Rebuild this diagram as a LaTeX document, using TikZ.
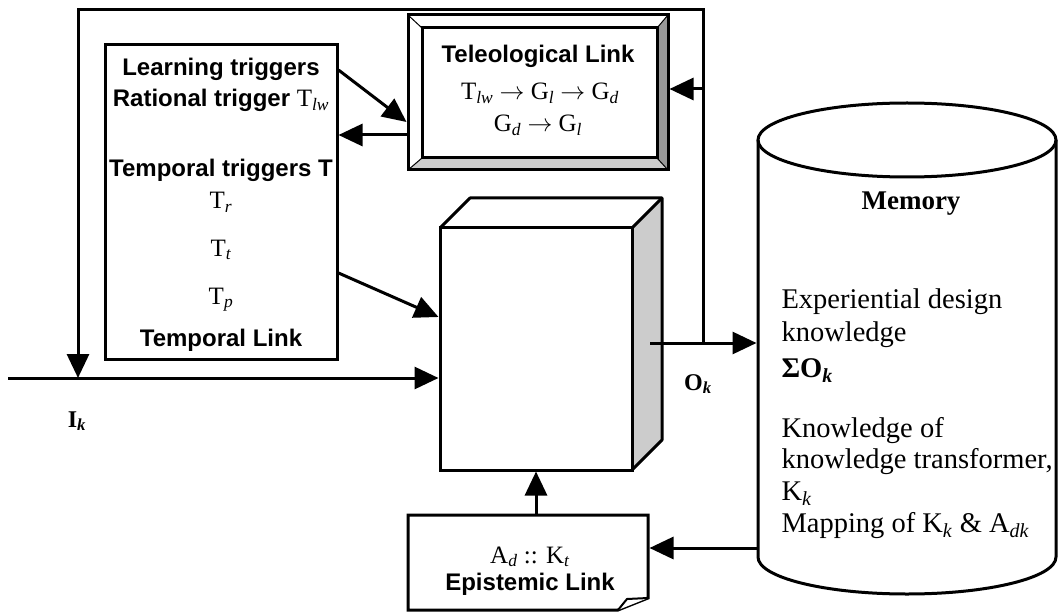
\documentclass[tikz,border=0pt]{standalone}
\usepackage{fontspec}
\setmainfont{Liberation Serif}
\setsansfont{Liberation Sans}
\usetikzlibrary{arrows.meta}
\begin{document}
\begin{tikzpicture}[x=1pt,y=-1pt,line width=3pt,
  arr/.style={-{Triangle[length=24pt,width=22pt]}},
  sfb/.style={font=\sffamily\bfseries\fontsize{24}{27}\selectfont,inner sep=0pt},
  srf/.style={font=\rmfamily\mdseries\fontsize{25}{28}\selectfont,inner sep=0pt},
  memf/.style={font=\rmfamily\fontsize{28.5}{33}\selectfont,inner sep=0pt,anchor=base west},
  lblf/.style={font=\rmfamily\bfseries\fontsize{24}{28}\selectfont,inner sep=0pt,anchor=base},
  box/.style={draw,line width=3pt,inner sep=0pt},
  ghost/.style={inner sep=0pt},
  thinline/.style={line width=1pt}]
\useasboundingbox (0,0) rectangle (1059,612);

% ---------- Learning triggers box ----------
\node[box,minimum width=232pt,minimum height=314pt] (lrn) at (221,202) {};
\node[sfb,anchor=base] (l1) at (221,76) {Learning triggers};
\node[sfb,anchor=base] (l2) at (221,107) {Rational trigger {\rmfamily\mdseries\fontsize{25}{28}\selectfont T\textsubscript{\textit{lw}}}};
\node[sfb,anchor=base] (l3) at (221,177) {Temporal triggers T};
\node[srf,anchor=base] (l4) at (221,209) {T\textsubscript{\textit{r}}};
\node[srf,anchor=base] (l5) at (221,256) {T\textsubscript{\textit{t}}};
\node[srf,anchor=base] (l6) at (221,304) {T\textsubscript{\textit{p}}};
\node[sfb,anchor=base] (l7) at (221,346) {Temporal Link};

% ---------- Teleological link (bevelled box) ----------
\fill[gray!80] (657,28) -- (668,15) -- (668,170) -- (657,158) -- cycle;
\fill[gray!40] (422,158) -- (657,158) -- (668,170) -- (408,170) -- cycle;
\draw[thinline] (408,15) -- (422,28) (668,15) -- (657,28) (408,170) -- (422,158) (668,170) -- (657,158);
\draw (422,28) rectangle (657,158);
\node[box,minimum width=260pt,minimum height=155pt] (tel) at (538,92.5) {};
\node[sfb,anchor=base] (t1) at (538,63) {Teleological Link};
\node[srf,anchor=base] (t2) at (540,100) {T\textsubscript{\textit{lw}} $\rightarrow$ G\textsubscript{\textit{l}} $\rightarrow$ G\textsubscript{\textit{d}}};
\node[srf,anchor=base] (t3) at (538,132) {G\textsubscript{\textit{d}} $\rightarrow$ G\textsubscript{\textit{l}}};

% ---------- Cube ----------
\fill[gray!40] (632,228) -- (662,198) -- (662,440) -- (632,470) -- cycle;
\draw[line join=round] (440,228) -- (470,198) -- (662,198) -- (662,440) -- (632,470);
\draw (632,228) -- (662,198);
\node[box,fill=white,minimum width=192pt,minimum height=242pt] (cube) at (536,349) {};

% ---------- Memory cylinder ----------
\draw[fill=white] (758,140) -- (758,557) arc[start angle=180,end angle=0,x radius=149,y radius=37] -- (1056,140);
\draw (907,140) ellipse[x radius=149,y radius=37];
\node[ghost,minimum width=298pt,minimum height=417pt] (mem) at (907,348) {};
\node[font=\rmfamily\bfseries\fontsize{27}{30}\selectfont,inner sep=0pt,anchor=base] (m0) at (911,210) {Memory};
\node[memf] (m1) at (780,308) {Experiential design};
\node[memf] (m2) at (780,341) {knowledge};
\node[memf] (m3) at (780,377) {\textbf{ΣO\textsubscript{\textit{k}}}};
\node[memf] (m4) at (780,437) {Knowledge of};
\node[memf] (m5) at (780,468) {knowledge transformer,};
\node[memf] (m6) at (780,500) {K\textsubscript{\textit{k}}};
\node[memf] (m7) at (780,532) {Mapping of K\textsubscript{\textit{k}} \& A\textsubscript{\textit{dk}}};

% ---------- Epistemic link (document shape) ----------
\draw[fill=white] (408,515) -- (648,515) -- (648,598) -- (618,610) -- (408,610) -- cycle;
\draw[fill=white,line width=2pt,line join=round] (618,610) -- (627,599) -- (648,598);
\node[ghost,minimum width=240pt,minimum height=83pt] (epi) at (528,556.5) {};
\node[srf,anchor=base] (e1) at (530,563) {A\textsubscript{\textit{d}} :: K\textsubscript{\textit{t}}};
\node[sfb,anchor=base] (e2) at (530,590) {Epistemic Link};

% ---------- Labels ----------
\node[lblf] (ok) at (698,390) {O\textsubscript{\textit{k}}};
\node[lblf] (ik) at (77,427) {I\textsubscript{\textit{k}}};

% ---------- Connectors ----------
\coordinate (in) at (8,378);
\coordinate (cr) at (650,343);
\coordinate (j) at (703,343);
\coordinate (tr) at (703,10);
\coordinate (tl) at (78,10);
\coordinate (jin) at (78,378);

\draw[arr] (lrn.east |- 0,70) -- (tel.west |- 0,122);
\draw[arr] (tel.west |- 0,135) -- (lrn.east |- 0,135);
\draw[arr] (lrn.east |- 0,273) -- (cube.west |- 0,317);
\draw[arr] (in) -- (cube.west |- in);
\draw[arr] (cr) -- (mem.west |- cr);
\draw[arr,line join=miter] (j) -- (tr) -- (tl) -- (jin);
\draw[arr] (j |- 0,89) -- (tel.east |- 0,89);
\draw[arr] (mem.west |- 0,548) -- (epi.east |- 0,548);
\draw[arr] (cube.south |- epi.north) -- (cube.south);
\end{tikzpicture}
\end{document}
